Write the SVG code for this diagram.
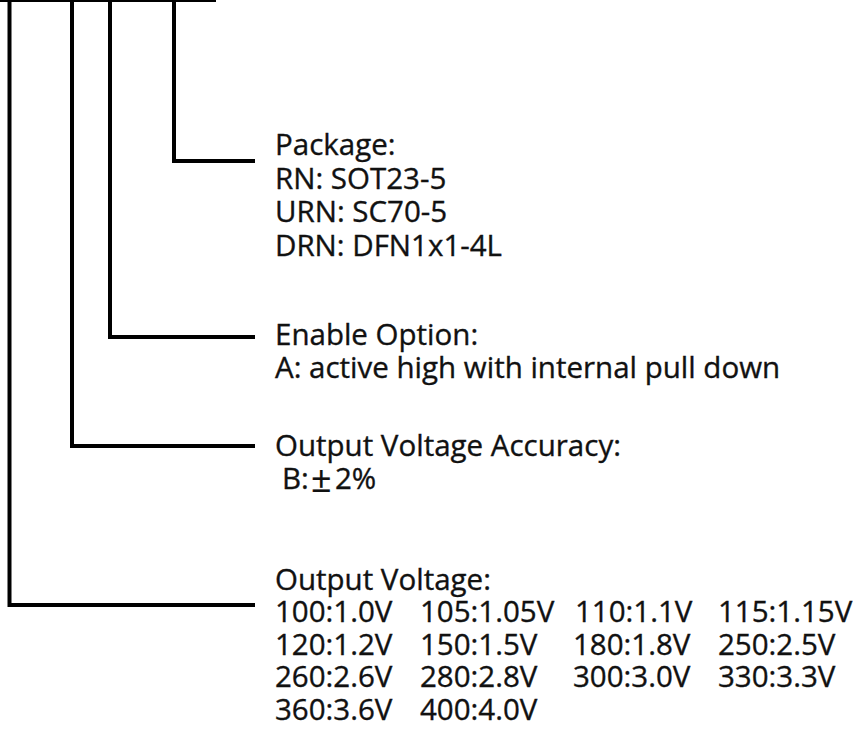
<svg xmlns="http://www.w3.org/2000/svg" width="864" height="751" viewBox="0 0 864 751">
<style>
.c{fill:none;stroke:#000;stroke-width:4;stroke-linejoin:miter;stroke-linecap:butt}
text{font-family:"Open Sans","Noto Sans","Liberation Sans",sans-serif;font-size:29.5px;fill:#111;stroke:#111;stroke-width:0.35}
.pm{font-size:36px;stroke-width:0.2}
</style>
<rect width="864" height="751" fill="#fff"/>
<g id="connectors">
<line class="c" x1="0" y1="0" x2="216" y2="0"/>
<polyline class="c" points="174,0 174,161 255,161"/>
<polyline class="c" points="110,0 110,337 255,337"/>
<polyline class="c" points="72,0 72,446 255,446"/>
<polyline class="c" points="9.5,0 9.5,605 255,605"/>
</g>
<g id="package">
<text x="275" y="155">Package:</text>
<text x="275" y="189">RN: SOT23-5</text>
<text x="275" y="222">URN: SC70-5</text>
<text x="275" y="256">DRN: DFN1x1-4L</text>
</g>
<g id="enable">
<text x="275" y="345">Enable Option:</text>
<text x="275" y="378">A: active high with internal pull down</text>
</g>
<g id="accuracy">
<text x="275" y="456">Output Voltage Accuracy:</text>
<text y="489"><tspan x="282">B:</tspan><tspan class="pm" x="311" y="492">±</tspan><tspan x="335" y="489">2%</tspan></text>
</g>
<g id="voltage">
<text x="275" y="590">Output Voltage:</text>
<text y="622"><tspan x="275">100:1.0V</tspan><tspan x="420">105:1.05V</tspan><tspan x="575">110:1.1V</tspan><tspan x="718">115:1.15V</tspan></text>
<text y="655"><tspan x="275">120:1.2V</tspan><tspan x="420">150:1.5V</tspan><tspan x="573">180:1.8V</tspan><tspan x="718">250:2.5V</tspan></text>
<text y="687"><tspan x="275">260:2.6V</tspan><tspan x="420">280:2.8V</tspan><tspan x="573">300:3.0V</tspan><tspan x="718">330:3.3V</tspan></text>
<text y="720"><tspan x="275">360:3.6V</tspan><tspan x="420">400:4.0V</tspan></text>
</g>
</svg>
